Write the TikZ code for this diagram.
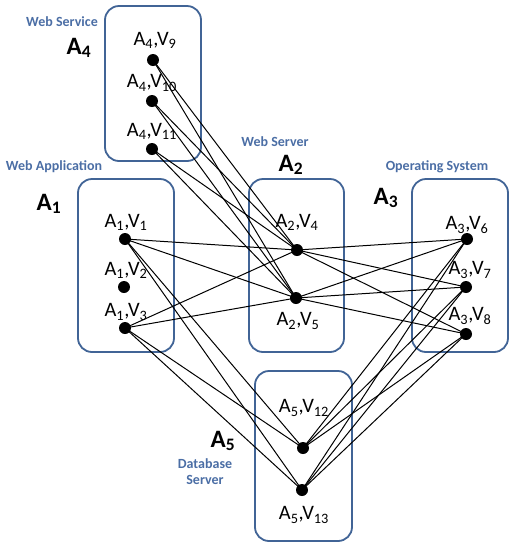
\documentclass[tikz,border=0pt]{standalone}
\usepackage{fontspec}
\setmainfont{Carlito}
\definecolor{boxblue}{RGB}{65,100,150}
\definecolor{lblblue}{RGB}{75,110,165}
\begin{document}
\begin{tikzpicture}[x=1pt,y=-1pt,
  grp/.style={draw=boxblue,line width=1.8pt,rounded corners=14pt,inner sep=0pt},
  dot/.style={circle,fill=black,inner sep=0pt,minimum size=12pt},
  vlab/.style={font=\fontsize{20.5}{22}\selectfont,inner sep=0pt},
  alab/.style={font=\fontsize{25}{27}\selectfont\bfseries,inner sep=0pt},
  blab/.style={font=\fontsize{14}{16}\selectfont\bfseries,text=lblblue,inner sep=0pt,align=center},
  edge/.style={line width=1pt,black}]
\useasboundingbox (0,0) rectangle (516,550);
% boxes
\node[grp,minimum width=96pt,minimum height=155pt] (b4) at (153,83.5) {};
\node[grp,minimum width=96pt,minimum height=173pt] (b1) at (126,265.5) {};
\node[grp,minimum width=95pt,minimum height=173pt] (b2) at (296.5,265.5) {};
\node[grp,minimum width=96pt,minimum height=173pt] (b3) at (460,265.5) {};
\node[grp,minimum width=97pt,minimum height=170pt] (b5) at (303.5,456) {};
% dots
\node[dot] (v9) at (153,60) {};
\node[dot] (v10) at (152,101) {};
\node[dot] (v11) at (152,149) {};
\node[dot] (v1) at (125,239) {};
\node[dot] (v2) at (124,287) {};
\node[dot] (v3) at (125,328) {};
\node[dot] (v4) at (297,250) {};
\node[dot] (v5) at (296,298) {};
\node[dot] (v6) at (467,239) {};
\node[dot] (v7) at (466,287) {};
\node[dot] (v8) at (466,334) {};
\node[dot] (v12) at (303,448) {};
\node[dot] (v13) at (302,490) {};
% edges
\foreach \s in {v9,v10,v11,v1,v3}{
  \foreach \t in {v4,v5}{\draw[edge] (\s.center) -- (\t.center);}}
\foreach \s in {v4,v5}{
  \foreach \t in {v6,v7,v8}{\draw[edge] (\s.center) -- (\t.center);}}
\foreach \s in {v1,v3,v6,v7,v8}{
  \foreach \t in {v12,v13}{\draw[edge] (\s.center) -- (\t.center);}}
% vertex labels
\node[vlab] (l9) at (155,40) {A\textsubscript{4},V\textsubscript{9}};
\node[vlab] (l10) at (152,83) {A\textsubscript{4},V\textsubscript{10}};
\node[vlab] (l11) at (152,131) {A\textsubscript{4},V\textsubscript{11}};
\node[vlab] (l1) at (126,222) {A\textsubscript{1},V\textsubscript{1}};
\node[vlab] (l2) at (126,270) {A\textsubscript{1},V\textsubscript{2}};
\node[vlab] (l3) at (126,312) {A\textsubscript{1},V\textsubscript{3}};
\node[vlab] (l4) at (297,222) {A\textsubscript{2},V\textsubscript{4}};
\node[vlab] (l5) at (298,321) {A\textsubscript{2},V\textsubscript{5}};
\node[vlab] (l6) at (467,225) {A\textsubscript{3},V\textsubscript{6}};
\node[vlab] (l7) at (470,270) {A\textsubscript{3},V\textsubscript{7}};
\node[vlab] (l8) at (470,316) {A\textsubscript{3},V\textsubscript{8}};
\node[vlab] (l12) at (304,408) {A\textsubscript{5},V\textsubscript{12}};
\node[vlab] (l13) at (304,515) {A\textsubscript{5},V\textsubscript{13}};
% group labels
\node[alab] (a4) at (79,48) {A\textsubscript{4}};
\node[alab] (a1) at (49,204) {A\textsubscript{1}};
\node[alab] (a2) at (291,165) {A\textsubscript{2}};
\node[alab] (a3) at (386,198) {A\textsubscript{3}};
\node[alab] (a5) at (223,441) {A\textsubscript{5}};
\node[blab] (n4) at (62,22) {Web Service};
\node[blab] (n1) at (54,167) {Web Application};
\node[blab] (n2) at (275,142) {Web Server};
\node[blab] (n3) at (437,167) {Operating System};
\node[blab] (n5) at (205,472) {Database\\Server};
\end{tikzpicture}
\end{document}
